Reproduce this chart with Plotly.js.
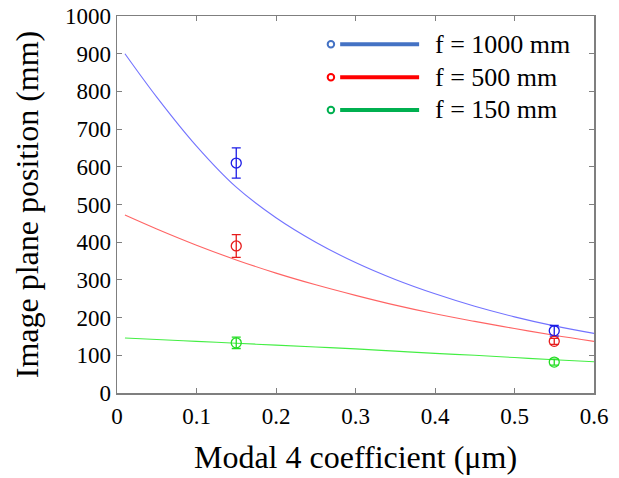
<!DOCTYPE html>
<html>
<head>
<meta charset="utf-8">
<script src="https://cdn.plot.ly/plotly-3.0.1.min.js"></script>
<style>html,body{margin:0;padding:0;background:#fff;}#chart{width:619px;height:478px;}</style>
</head>
<body>
<div id="chart"></div>
<script>
// Fitted curves
const curveX = [0.01, 0.05, 0.1, 0.15, 0.2, 0.25, 0.3, 0.35, 0.4, 0.45, 0.5, 0.55, 0.6];
const curve1000 = [900, 785, 655, 546, 465, 400, 346, 301, 263, 230, 202, 178, 158];
const curve500 = [472, 435, 392, 353, 318, 287, 259, 233, 210, 190, 171, 153, 137];
const curve150 = [146, 142, 137, 132, 127, 122, 117, 111, 105, 100, 94, 88, 83];

// Measured points
const measX = [0.15, 0.55];
const meas1000 = [610, 165];
const err1000 = [40, 14];
const meas500 = [390, 137];
const err500 = [30, 8];
const meas150 = [133, 82];
const err150 = [15, 8];

const legendLabels = ['f = 1000 mm', 'f = 500 mm', 'f = 150 mm'];
const legendColors = ['#4472C4', '#FF0000', '#00B050'];

const font = "'Liberation Serif', 'Times New Roman', serif";

function curve(y, color) {
  return {x: curveX, y: y, mode: 'lines', line: {color: color, width: 1.1, shape: 'spline'},
    showlegend: false, hoverinfo: 'skip'};
}
function meas(y, e, color) {
  return {x: measX, y: y, mode: 'markers',
    marker: {symbol: 'circle-open', size: 10, color: color, line: {width: 1.3, color: color}},
    error_y: {type: 'data', array: e, visible: true, color: color, thickness: 1.3, width: 4.5},
    showlegend: false};
}

const traces = [
  curve(curve1000, '#7373ff'),
  curve(curve500, '#ff6464'),
  curve(curve150, '#44ee44'),
  meas(meas1000, err1000, '#1c1ce6'),
  meas(meas500, err500, '#e61c1c'),
  meas(meas150, err150, '#22dd22')
];

// legend drawn in paper coordinates
const L = 116.7, R = 594, T = 16, B = 393;
const px = v => (v - L) / (R - L);
const py = v => (B - v) / (B - T);
const rows = [44.3, 77.3, 110];
const shapes = [];
const annotations = [];
rows.forEach((r, i) => {
  shapes.push({type: 'line', xref: 'paper', yref: 'paper', x0: px(340), x1: px(419), y0: py(r), y1: py(r),
    line: {color: legendColors[i], width: 4}});
  shapes.push({type: 'circle', xref: 'paper', yref: 'paper', x0: px(327.5), x1: px(334), y0: py(r - 3.2), y1: py(r + 3.2),
    line: {color: legendColors[i], width: 2}, fillcolor: 'rgba(0,0,0,0)'});
  annotations.push({xref: 'paper', yref: 'paper', x: px(433), y: py(r), xanchor: 'left', yanchor: 'middle',
    text: legendLabels[i], showarrow: false, font: {family: font, size: 26, color: '#000'}});
});

const axisCommon = {
  showline: true, linecolor: '#7f7f7f', linewidth: 1.5, mirror: 'ticks',
  ticks: 'inside', ticklen: 5, tickcolor: '#7f7f7f', tickwidth: 1,
  showgrid: false, zeroline: false,
  tickfont: {family: font, size: 23, color: '#000'}
};

const layout = {
  width: 619, height: 478,
  margin: {l: L, r: 619 - R, t: T, b: 478 - B},
  paper_bgcolor: '#fff', plot_bgcolor: '#fff',
  font: {family: font, color: '#000'},
  showlegend: false,
  xaxis: Object.assign({}, axisCommon, {
    range: [0, 0.6], tick0: 0, dtick: 0.1, ticklabelstandoff: 2,
    title: {text: 'Modal 4 coefficient (\u03bcm)', font: {family: font, size: 32, color: '#000'}, standoff: 17}
  }),
  yaxis: Object.assign({}, axisCommon, {
    range: [0, 1000], tick0: 0, dtick: 100,
    title: {text: 'Image plane position (mm)', font: {family: font, size: 32, color: '#000'}, standoff: 16}
  }),
  shapes: shapes,
  annotations: annotations
};

Plotly.newPlot('chart', traces, layout, {displayModeBar: false, staticPlot: true});
</script>
</body>
</html>
